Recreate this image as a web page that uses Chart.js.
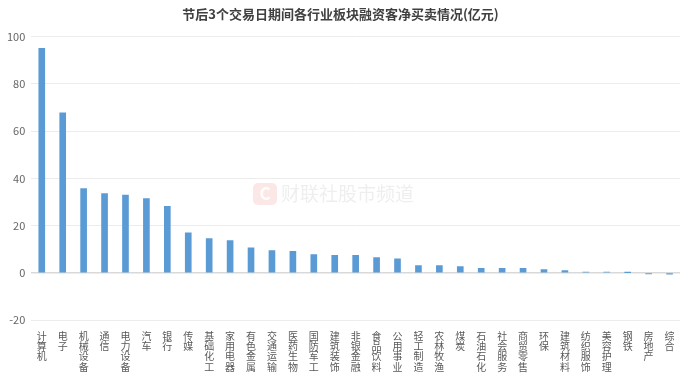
<!DOCTYPE html>
<html>
<head>
<meta charset="utf-8">
<script src="https://cdn.jsdelivr.net/npm/chart.js@4/dist/chart.umd.min.js"></script>
<style>
  html, body { margin: 0; padding: 0; background: #fff; }
  #wrap { width: 692px; height: 375px; position: relative; }
</style>
</head>
<body>
<div id="wrap"><canvas id="chart"></canvas></div>
<script>
// 行业板块
const categories = ['计算机', '电子', '机械设备', '通信', '电力设备', '汽车', '银行', '传媒', '基础化工', '家用电器',
    '有色金属', '交通运输', '医药生物', '国防军工', '建筑装饰', '非银金融', '食品饮料', '公用事业', '轻工制造', '农林牧渔',
    '煤炭', '石油石化', '社会服务', '商贸零售', '环保', '建筑材料', '纺织服饰', '美容护理', '钢铁', '房地产', '综合'];

// 融资客净买卖(亿元)
const netBuy = [95.0, 67.7, 35.7, 33.6, 32.9, 31.5, 28.2, 17.0, 14.5, 13.7,
    10.6, 9.5, 9.1, 7.8, 7.5, 7.4, 6.5, 6.0, 3.1, 3.1,
    2.7, 2.0, 2.0, 1.9, 1.4, 1.0, 0.4, 0.4, 0.1, -0.4, -0.5];

const yTicks = [-20, 0, 20, 40, 60, 80, 100];

const font = '"Noto Sans CJK SC", "Microsoft YaHei", sans-serif';

// 水印
const watermark = {
    id: 'watermark',
    beforeDatasetsDraw(chart) {
        const ctx = chart.ctx;
        ctx.save();
        ctx.fillStyle = 'rgba(232, 70, 70, 0.13)';
        ctx.beginPath();
        ctx.roundRect(253, 183, 24, 22, 5);
        ctx.fill();
        ctx.fillStyle = 'rgba(255,255,255,0.9)';
        ctx.font = 'bold 17px ' + font;
        ctx.textAlign = 'center';
        ctx.textBaseline = 'middle';
        ctx.fillText('C', 265, 194);
        ctx.fillStyle = 'rgba(120, 120, 120, 0.13)';
        ctx.font = '19px ' + font;
        ctx.textAlign = 'left';
        ctx.fillText('财联社股市频道', 281, 194);
        ctx.restore();
    }
};

new Chart(document.getElementById('chart').getContext('2d'), {
    type: 'bar',
    data: {
        labels: categories.map(c => c.split('')),
        datasets: [{
            data: netBuy,
            backgroundColor: '#5b9bd5',
            barThickness: 6
        }]
    },
    options: {
        responsive: true,
        maintainAspectRatio: false,
        animation: false,
        layout: { padding: { left: 1, right: 12, bottom: 0 } },
        plugins: {
            legend: { display: false },
            tooltip: { enabled: false },
            title: {
                display: true,
                text: '节后3个交易日期间各行业板块融资客净买卖情况(亿元)',
                color: '#404040',
                font: { family: font, size: 13, weight: 'bold' },
                padding: { top: 6, bottom: 15 }
            }
        },
        scales: {
            x: {
                grid: { display: false },
                border: { display: false },
                ticks: {
                    color: '#595959',
                    font: { family: font, size: 10, lineHeight: 1.02 },
                    maxRotation: 0,
                    autoSkip: false,
                    padding: 3
                }
            },
            y: {
                min: -20,
                max: 100,
                afterBuildTicks: axis => { axis.ticks = yTicks.map(v => ({ value: v })); },
                grid: {
                    color: c => c.tick && c.tick.value === 0 ? '#d9d9d9' : '#ececec',
                    lineWidth: c => c.tick && c.tick.value === 0 ? 1.5 : 1,
                    drawTicks: false
                },
                border: { display: false },
                ticks: {
                    color: '#666666',
                    font: { family: font, size: 11 },
                    padding: 6
                }
            }
        }
    },
    plugins: [watermark]
});
</script>
</body>
</html>
